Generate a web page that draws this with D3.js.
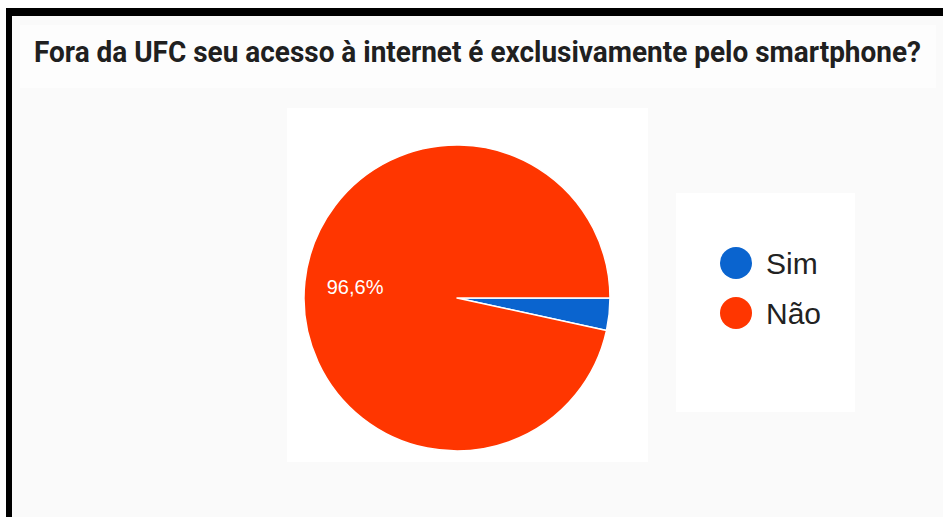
<!DOCTYPE html>
<html>
<head>
<meta charset="utf-8">
<script src="https://cdn.jsdelivr.net/npm/d3@7"></script>
<style>
  html, body { margin: 0; padding: 0; background: #ffffff; }
  svg { display: block; }
</style>
</head>
<body>
<svg id="chart" width="943" height="517"></svg>
<script>
// Survey answers and their shares (%)
const categories = ["Sim", "Não"];
const values = [3.4, 96.6];
const colors = ["#0a64cf", "#ff3600"];
const title = "Fora da UFC seu acesso à internet é exclusivamente pelo smartphone?";

const svg = d3.select("#chart");

// Frame: light page with black top and left edges
svg.append("rect").attr("x", 6).attr("y", 8).attr("width", 937).attr("height", 509).attr("fill", "#000");
svg.append("rect").attr("x", 12).attr("y", 16).attr("width", 931).attr("height", 501).attr("fill", "#fafafa");

// Title card (text stretched vertically for a condensed look)
svg.append("rect").attr("x", 20).attr("y", 25).attr("width", 916).attr("height", 63).attr("fill", "#fdfdfd");
svg.append("g")
  .attr("transform", "translate(34,62) scale(1,1.16)")
  .append("text")
  .attr("x", 0).attr("y", 0)
  .attr("font-family", "Roboto, 'Liberation Sans', sans-serif")
  .attr("font-weight", "bold")
  .attr("font-size", 25)
  .attr("fill", "#202020")
  .attr("textLength", 887)
  .attr("lengthAdjust", "spacingAndGlyphs")
  .text(title);

// Pie panel
svg.append("rect").attr("x", 287).attr("y", 108).attr("width", 361).attr("height", 354).attr("fill", "#ffffff");

const cx = 457, cy = 298, r = 153;
const pie = d3.pie().sort(null).value(d => d.value)
  .startAngle(Math.PI / 2).endAngle(Math.PI / 2 + 2 * Math.PI);
const data = categories.map((c, i) => ({ name: c, value: values[i], color: colors[i] }));
const arcs = pie(data);
const arc = d3.arc().innerRadius(0).outerRadius(r);

const g = svg.append("g").attr("transform", `translate(${cx},${cy})`);
g.selectAll("path")
  .data(arcs)
  .join("path")
  .attr("d", arc)
  .attr("fill", d => d.data.color)
  .attr("stroke", "#ffffff")
  .attr("stroke-width", 1.5)
  .attr("stroke-linejoin", "round");

// Percentage label for the large slice
const fmt = v => d3.format(".1f")(v).replace(".", ",") + "%";
const labelR = r * 0.67;
g.selectAll("text.pct")
  .data(arcs.filter(d => d.data.value > 10))
  .join("text")
  .attr("class", "pct")
  .attr("x", d => Math.sin((d.startAngle + d.endAngle) / 2) * labelR)
  .attr("y", d => -Math.cos((d.startAngle + d.endAngle) / 2) * labelR)
  .attr("dy", "0.35em")
  .attr("text-anchor", "middle")
  .attr("font-family", "'Liberation Sans', Arial, sans-serif")
  .attr("font-size", 20)
  .attr("fill", "#ffffff")
  .text(d => fmt(d.data.value));

// Legend panel
svg.append("rect").attr("x", 676).attr("y", 193).attr("width", 179).attr("height", 219).attr("fill", "#ffffff");
const legend = svg.append("g");
const items = legend.selectAll("g")
  .data(data)
  .join("g")
  .attr("transform", (d, i) => `translate(736,${263 + i * 50})`);
items.append("circle").attr("r", 16).attr("fill", d => d.color);
items.append("text")
  .attr("x", 30).attr("dy", "0.35em")
  .attr("font-family", "'Liberation Sans', Arial, sans-serif")
  .attr("font-size", 30)
  .attr("fill", "#222222")
  .text(d => d.name);
</script>
</body>
</html>
